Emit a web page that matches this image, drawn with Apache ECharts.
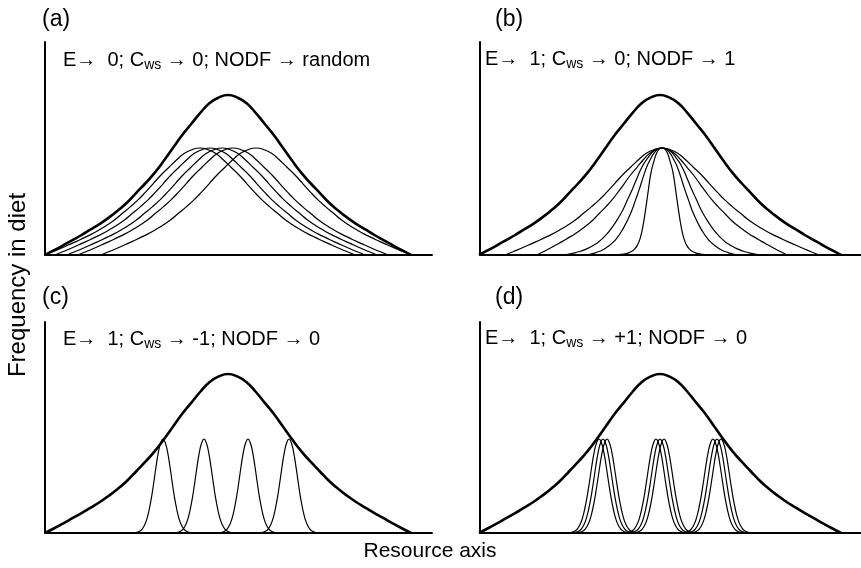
<!DOCTYPE html>
<html>
<head>
<meta charset="utf-8">
<script src="https://cdn.jsdelivr.net/npm/echarts@6/dist/echarts.min.js"></script>
<style>
  html, body { margin: 0; padding: 0; background: #fff; }
  #chart { width: 861px; height: 568px; }
</style>
</head>
<body>
<div id="chart"></div>
<script>
// bell profiles, one value every 0.05 of the half-extent
// (height / peak, from the centre out to where the curve meets the axis)
const wideShape = [1, 0.985, 0.95, 0.89, 0.82, 0.75, 0.67, 0.59, 0.515, 0.45, 0.39, 0.33, 0.28, 0.235, 0.195, 0.16, 0.125, 0.093, 0.061, 0.03, 0];
const midShape = [1, 0.99, 0.96, 0.9, 0.83, 0.73, 0.62, 0.52, 0.42, 0.34, 0.27, 0.21, 0.16, 0.12, 0.09, 0.065, 0.045, 0.03, 0.018, 0.008, 0];
const steepShape = [1, 0.99, 0.95, 0.87, 0.77, 0.6, 0.42, 0.26, 0.15, 0.09, 0.055, 0.035, 0.022, 0.014, 0.009, 0.006, 0.004, 0.002, 0.001, 0, 0];
const narrowShape = [1, 0.96, 0.86, 0.71, 0.54, 0.38, 0.25, 0.15, 0.085, 0.045, 0.022, 0.01, 0.004, 0.002, 0.001, 0, 0, 0, 0, 0, 0];

// envelope (whole population) for panels a, b, c, d
const envCenter = [183, 180, 183, 180];
const envHalf = [183, 181, 183, 181];
const envPeak = [160, 160, 159, 159];

// individual diets
const aCenters = [155, 165, 177, 188, 211];
const aHalf = 155, aPeak = 107;
const bHalfs = [157, 125, 98, 75, 55];
const bShapes = [wideShape, wideShape, midShape, midShape, steepShape];
const bCenter = 182, bPeak = 107;
const cCenters = [118, 159, 203, 244];
const cHalf = 46, cPeak = 94;
const dCenters = [119, 123, 127, 176, 180, 184, 233, 237, 241];
const dHalf = 48, dPeak = 94;

const panelLabels = ['(a)', '(b)', '(c)', '(d)'];
const panelNotes = [
  ['0', '0', 'random'],
  ['1', '0', '1'],
  ['1', '-1', '0'],
  ['1', '+1', '0']
];

function curve(center, half, peak, shape) {
  const step = 1 / (shape.length - 1);
  const right = shape.map((h, k) => [center + k * step * half, h * peak]);
  const left = shape.slice(1).map((h, k) => [center - (k + 1) * step * half, h * peak]).reverse();
  return left.concat(right);
}

const grids = [
  {left: 45, top: 42, width: 387, height: 213},
  {left: 480, top: 42, width: 381, height: 213},
  {left: 45, top: 322, width: 387, height: 211},
  {left: 480, top: 322, width: 381, height: 211}
];

const axisLine = {show: true, onZero: false, lineStyle: {color: '#000', width: 2}};
const xAxes = grids.map((g, i) => ({
  type: 'value', gridIndex: i, min: 0, max: g.width,
  axisLine: axisLine, axisTick: {show: false}, axisLabel: {show: false}, splitLine: {show: false}
}));
const yAxes = grids.map((g, i) => ({
  type: 'value', gridIndex: i, min: 0, max: g.height,
  axisLine: axisLine, axisTick: {show: false}, axisLabel: {show: false}, splitLine: {show: false}
}));

let series = [];
function addLine(i, data, thick) {
  series.push({
    type: 'line', xAxisIndex: i, yAxisIndex: i, data: data,
    smooth: 0.5, showSymbol: false, silent: true,
    lineStyle: {color: '#000', width: thick ? 2.6 : 1.2}
  });
}
aCenters.forEach(c => addLine(0, curve(c, aHalf, aPeak, wideShape)));
bHalfs.forEach((h, k) => addLine(1, curve(bCenter, h, bPeak, bShapes[k])));
cCenters.forEach(c => addLine(2, curve(c, cHalf, cPeak, narrowShape)));
dCenters.forEach(c => addLine(3, curve(c, dHalf, dPeak, narrowShape)));
for (let i = 0; i < 4; i++) {
  addLine(i, curve(envCenter[i], envHalf[i], envPeak[i], wideShape), true);
}

const font = 'Liberation Sans, Arial, sans-serif';
const rich = {
  t: {fontSize: 20, fontFamily: font, lineHeight: 24, fill: '#000'},
  ar: {fontSize: 20, fontFamily: font, lineHeight: 24, fill: '#000'},
  sub: {fontSize: 14, fontFamily: font, lineHeight: 12, verticalAlign: 'bottom', fill: '#000'}
};
const labelPos = [[42, 20], [495, 20], [42, 298], [495, 298]];
const notePos = [[63, 60], [485, 59], [63, 339], [485, 338]];

let graphic = [];
panelLabels.forEach((lab, i) => {
  graphic.push({type: 'text', x: labelPos[i][0], y: labelPos[i][1],
    style: {text: lab, fontSize: 23, fontFamily: font, fill: '#000', verticalAlign: 'middle'}});
  const n = panelNotes[i];
  graphic.push({type: 'text', x: notePos[i][0], y: notePos[i][1],
    style: {
      text: '{t|E}{ar|→}{t|  ' + n[0] + '; C}{sub|ws}{ar| →}{t| ' + n[1] + '; NODF }{ar|→}{t| ' + n[2] + '}',
      rich: rich, verticalAlign: 'middle'
    }});
});
graphic.push({type: 'text', x: 18, y: 285, rotation: Math.PI / 2,
  style: {text: 'Frequency in diet', fontSize: 24, fontFamily: font, fill: '#000', align: 'center', verticalAlign: 'middle'}});
graphic.push({type: 'text', x: 430, y: 551,
  style: {text: 'Resource axis', fontSize: 21, fontFamily: font, fill: '#000', align: 'center', verticalAlign: 'middle'}});

const chart = echarts.init(document.getElementById('chart'));
chart.setOption({
  backgroundColor: '#fff',
  animation: false,
  grid: grids,
  xAxis: xAxes,
  yAxis: yAxes,
  series: series,
  graphic: graphic
});
</script>
</body>
</html>
